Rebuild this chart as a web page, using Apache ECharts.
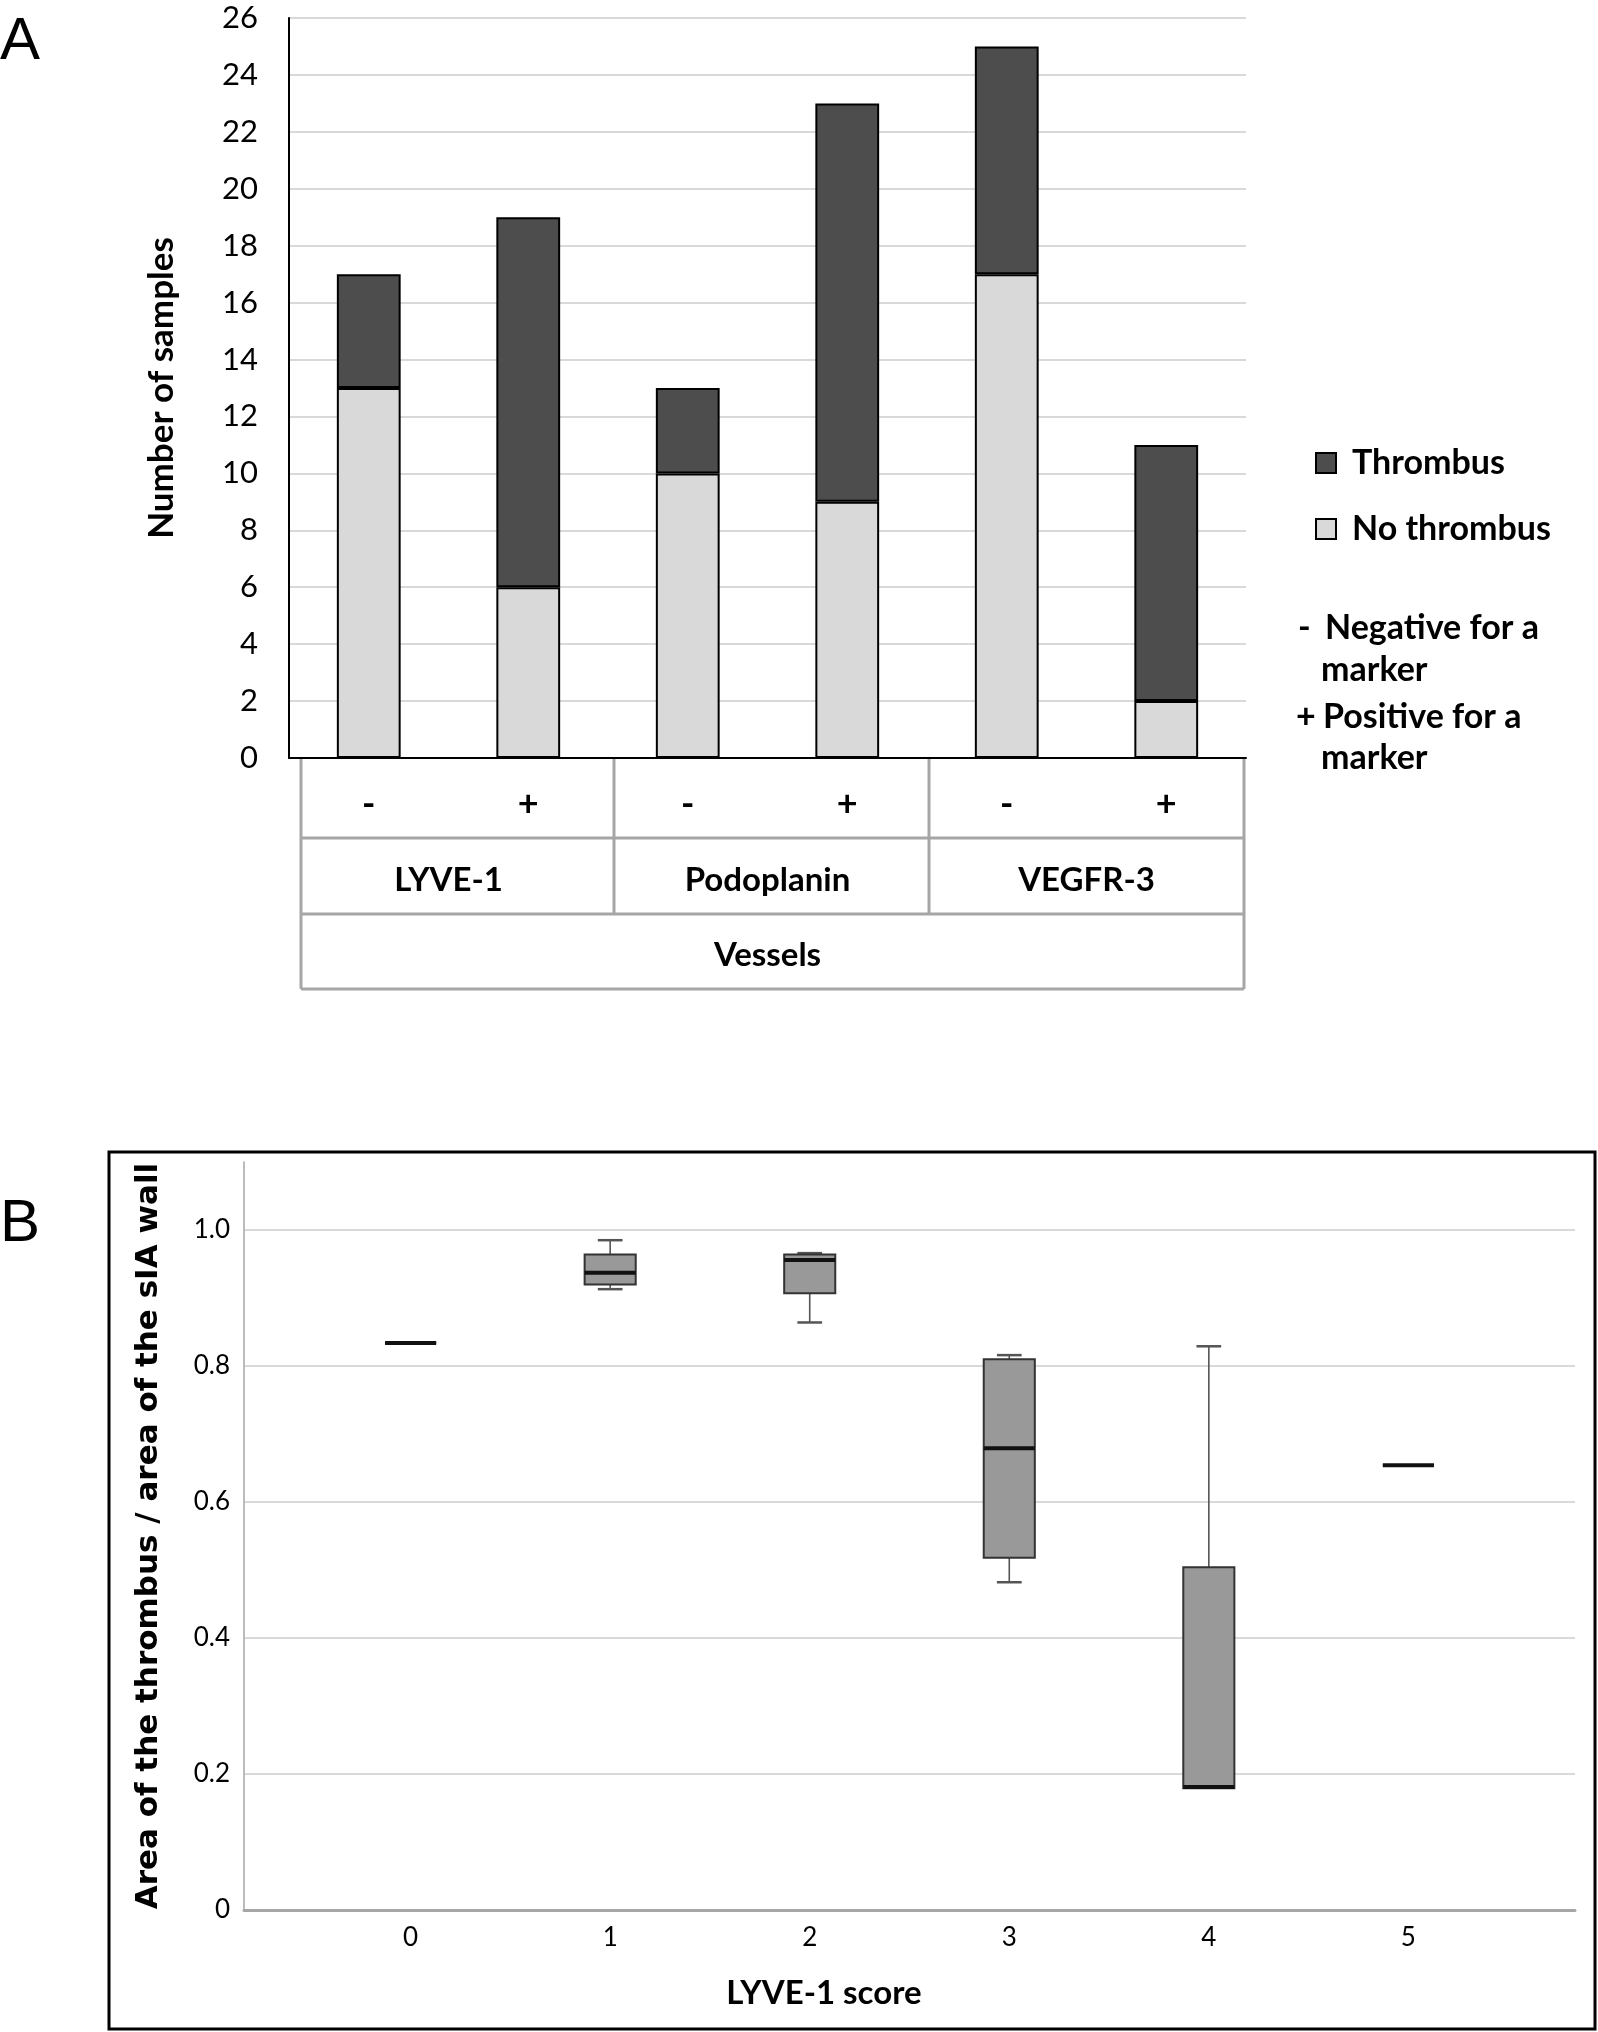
<!DOCTYPE html>
<html><head><meta charset="utf-8">
<script src="https://cdn.jsdelivr.net/npm/echarts@6/dist/echarts.min.js"></script>
<style>html,body{margin:0;padding:0;background:#fff;} #c{width:1598px;height:2032px;}</style>
</head><body><div id="c"></div>
<script>
// ---------- Panel A data ----------
const signs = ['-', '+', '-', '+', '-', '+'];
const markers = ['LYVE-1', 'Podoplanin', 'VEGFR-3'];
const groupLabel = ['Vessels'];
const noThrombus = [13, 6, 10, 9, 17, 2];
const thrombus = [4, 13, 3, 14, 8, 9];
const yTicksA = { min: 0, max: 26, interval: 2 };
// ---------- Panel B data ----------
const scores = [0, 1, 2, 3, 4, 5];
// [min, Q1, median, Q3, max]
const boxMin = [0.834, 0.913, 0.864, 0.482, 0.179, 0.654];
const boxQ1  = [0.834, 0.920, 0.907, 0.518, 0.179, 0.654];
const boxMed = [0.834, 0.937, 0.956, 0.679, 0.181, 0.654];
const boxQ3  = [0.834, 0.964, 0.964, 0.810, 0.504, 0.654];
const boxMax = [0.834, 0.985, 0.966, 0.816, 0.829, 0.654];

const FONT = 'Lato';
const chart = echarts.init(document.getElementById('c'), null, { renderer: 'canvas' });

const gridA = { left: 289, top: 18, width: 957, height: 740 };
const gridB = { left: 244, top: 1162, width: 1331, height: 748 };
const tbl = { left: 301, right: 1244, cols: [614, 929], rows: [758, 838, 914, 989] };
const tableColor = '#a6a6a6';

const graphics = [];
// Panel letters
graphics.push({ type: 'text', left: 0, top: 12, style: { text: 'A', font: '400 60px "Liberation Sans"', fill: '#000' } });
graphics.push({ type: 'text', left: 0, top: 1194, style: { text: 'B', font: '400 60px "Liberation Sans"', fill: '#000' } });
// Table under panel A
function hline(y, x1, x2) { graphics.push({ type: 'line', silent: true, shape: { x1, y1: y, x2, y2: y }, style: { stroke: tableColor, lineWidth: 3 } }); }
function vline(x, y1, y2) { graphics.push({ type: 'line', silent: true, shape: { x1: x, y1, x2: x, y2 }, style: { stroke: tableColor, lineWidth: 3 } }); }
hline(tbl.rows[1], tbl.left, tbl.right);
hline(tbl.rows[2], tbl.left, tbl.right);
hline(tbl.rows[3], tbl.left, tbl.right);
vline(tbl.left, tbl.rows[0], tbl.rows[3]);
vline(tbl.right, tbl.rows[0], tbl.rows[3]);
tbl.cols.forEach(x => vline(x, tbl.rows[0], tbl.rows[2]));
// Legend notes
const noteFont = 'bold 34px ' + FONT;
const notes = [
  ['-', 1298, 628], ['Negative for a', 1325, 628], ['marker', 1321, 670],
  ['+', 1296, 717], ['Positive for a', 1323, 717], ['marker', 1321, 758]
];
notes.forEach(n => graphics.push({ type: 'text', x: n[1], y: n[2], style: { text: n[0], font: noteFont, fill: '#000', textVerticalAlign: 'middle' } }));
// Panel B frame
graphics.push({ type: 'rect', silent: true, z: -1, shape: { x: 109, y: 1152, width: 1486, height: 877 }, style: { fill: 'none', stroke: '#000', lineWidth: 3 } });
// Panel B x title
graphics.push({ type: 'text', x: 824, y: 1993, style: { text: 'LYVE-1 score', font: 'bold 33px ' + FONT, fill: '#000', textAlign: 'center', textVerticalAlign: 'middle' } });

const tableLabel = { color: '#000', fontFamily: FONT, fontWeight: 'bold', fontSize: 33, verticalAlign: 'middle' };

const option = {
  animation: false,
  backgroundColor: '#fff',
  grid: [
    Object.assign({ containLabel: false }, gridA),
    Object.assign({ containLabel: false }, gridB)
  ],
  legend: {
    data: ['Thrombus', 'No thrombus'],
    orient: 'vertical', left: 1310, top: 439,
    itemWidth: 20, itemHeight: 20, itemGap: 28,
    icon: 'rect',
    textStyle: { color: '#000', fontFamily: FONT, fontWeight: 'bold', fontSize: 34, lineHeight: 38, padding: [0, 0, 0, 11] }
  },
  xAxis: [
    { gridIndex: 0, type: 'category', data: signs,
      axisLine: { lineStyle: { color: '#000', width: 2 } }, axisTick: { show: false },
      axisLabel: Object.assign({}, tableLabel, { margin: 46, fontSize: 36 }) },
    { gridIndex: 0, type: 'category', data: markers, position: 'bottom',
      axisLine: { show: false }, axisTick: { show: false },
      axisLabel: Object.assign({ margin: 122 }, tableLabel) },
    { gridIndex: 0, type: 'category', data: groupLabel, position: 'bottom',
      axisLine: { show: false }, axisTick: { show: false },
      axisLabel: Object.assign({ margin: 197 }, tableLabel) },
    { gridIndex: 1, type: 'value', min: -0.835, max: 5.835,
      axisLine: { show: true, lineStyle: { color: '#a6a6a6', width: 3 } },
      axisTick: { show: false }, splitLine: { show: false },
      axisLabel: { customValues: scores, color: '#000', fontFamily: FONT, fontSize: 26, margin: 15,
        formatter: v => (Math.abs(v - Math.round(v)) < 1e-6 ? String(Math.round(v)) : '') } }
  ],
  yAxis: [
    { gridIndex: 0, type: 'value', min: yTicksA.min, max: yTicksA.max, interval: yTicksA.interval,
      axisLine: { show: true, lineStyle: { color: '#000', width: 2 } }, axisTick: { show: false },
      splitLine: { show: true, lineStyle: { color: '#d9d9d9', width: 2 } },
      axisLabel: { color: '#000', fontFamily: FONT, fontSize: 31, margin: 31 },
      name: 'Number of samples', nameLocation: 'middle', nameGap: 110,
      nameTextStyle: { color: '#000', fontFamily: FONT, fontWeight: 'bold', fontSize: 35 } },
    { gridIndex: 1, type: 'value', min: 0, max: 1.1, interval: 0.2,
      axisLine: { show: true, onZero: false, lineStyle: { color: '#a6a6a6', width: 1.5 } }, axisTick: { show: false },
      splitLine: { show: true, showMaxLine: false, lineStyle: { color: '#d9d9d9', width: 2 } },
      axisLabel: { showMaxLabel: false, color: '#000', fontFamily: FONT, fontSize: 26, margin: 14,
        formatter: v => (v === 0 ? '0' : (Math.abs(v - 1.1) < 1e-6 ? '' : v.toFixed(1))) },
      name: 'Area of the thrombus / area of the sIA wall', nameLocation: 'middle', nameGap: 80,
      nameTextStyle: { color: '#000', fontFamily: 'DejaVu Sans', fontWeight: 'bold', fontSize: 31 } }
  ],
  series: [
    { name: 'No thrombus', type: 'bar', stack: 'a', xAxisIndex: 0, yAxisIndex: 0, data: noThrombus,
      barCategoryGap: '60%',
      itemStyle: { color: '#d9d9d9', borderColor: '#000', borderWidth: 2 } },
    { name: 'Thrombus', type: 'bar', stack: 'a', xAxisIndex: 0, yAxisIndex: 0, data: thrombus,
      barCategoryGap: '60%',
      itemStyle: { color: '#4d4d4d', borderColor: '#000', borderWidth: 2 } },
    { name: 'LYVE-1 score', type: 'custom', xAxisIndex: 3, yAxisIndex: 1,
      data: scores.map((s, i) => [s, boxMin[i], boxQ1[i], boxMed[i], boxQ3[i], boxMax[i]]),
      encode: { x: 0, y: [1, 2, 3, 4, 5] },
      renderItem: function (params, api) {
        const x = api.value(0);
        const pMin = api.coord([x, api.value(1)]);
        const pQ1 = api.coord([x, api.value(2)]);
        const pMed = api.coord([x, api.value(3)]);
        const pQ3 = api.coord([x, api.value(4)]);
        const pMax = api.coord([x, api.value(5)]);
        const unit = api.size([1, 0])[0];
        const hw = unit * 0.128, cw = unit * 0.062;
        const cx = pMed[0];
        const wStyle = { stroke: '#555', lineWidth: 1.6 };
        const ch = [];
        if (pMax[1] < pQ3[1] - 0.5) {
          ch.push({ type: 'line', shape: { x1: cx, y1: pMax[1], x2: cx, y2: pQ3[1] }, style: wStyle });
          ch.push({ type: 'line', shape: { x1: cx - cw, y1: pMax[1], x2: cx + cw, y2: pMax[1] }, style: { stroke: '#555', lineWidth: 2.5 } });
        }
        if (pMin[1] > pQ1[1] + 0.5) {
          ch.push({ type: 'line', shape: { x1: cx, y1: pQ1[1], x2: cx, y2: pMin[1] }, style: wStyle });
          ch.push({ type: 'line', shape: { x1: cx - cw, y1: pMin[1], x2: cx + cw, y2: pMin[1] }, style: { stroke: '#555', lineWidth: 2.5 } });
        }
        ch.push({ type: 'rect', shape: { x: cx - hw, y: pQ3[1], width: 2 * hw, height: pQ1[1] - pQ3[1] },
          style: { fill: '#999999', stroke: '#333', lineWidth: 2 } });
        ch.push({ type: 'line', shape: { x1: cx - hw, y1: pMed[1], x2: cx + hw, y2: pMed[1] }, style: { stroke: '#111', lineWidth: 4 } });
        return { type: 'group', children: ch };
      } }
  ],
  graphic: graphics
};
chart.setOption(option);
</script></body></html>
